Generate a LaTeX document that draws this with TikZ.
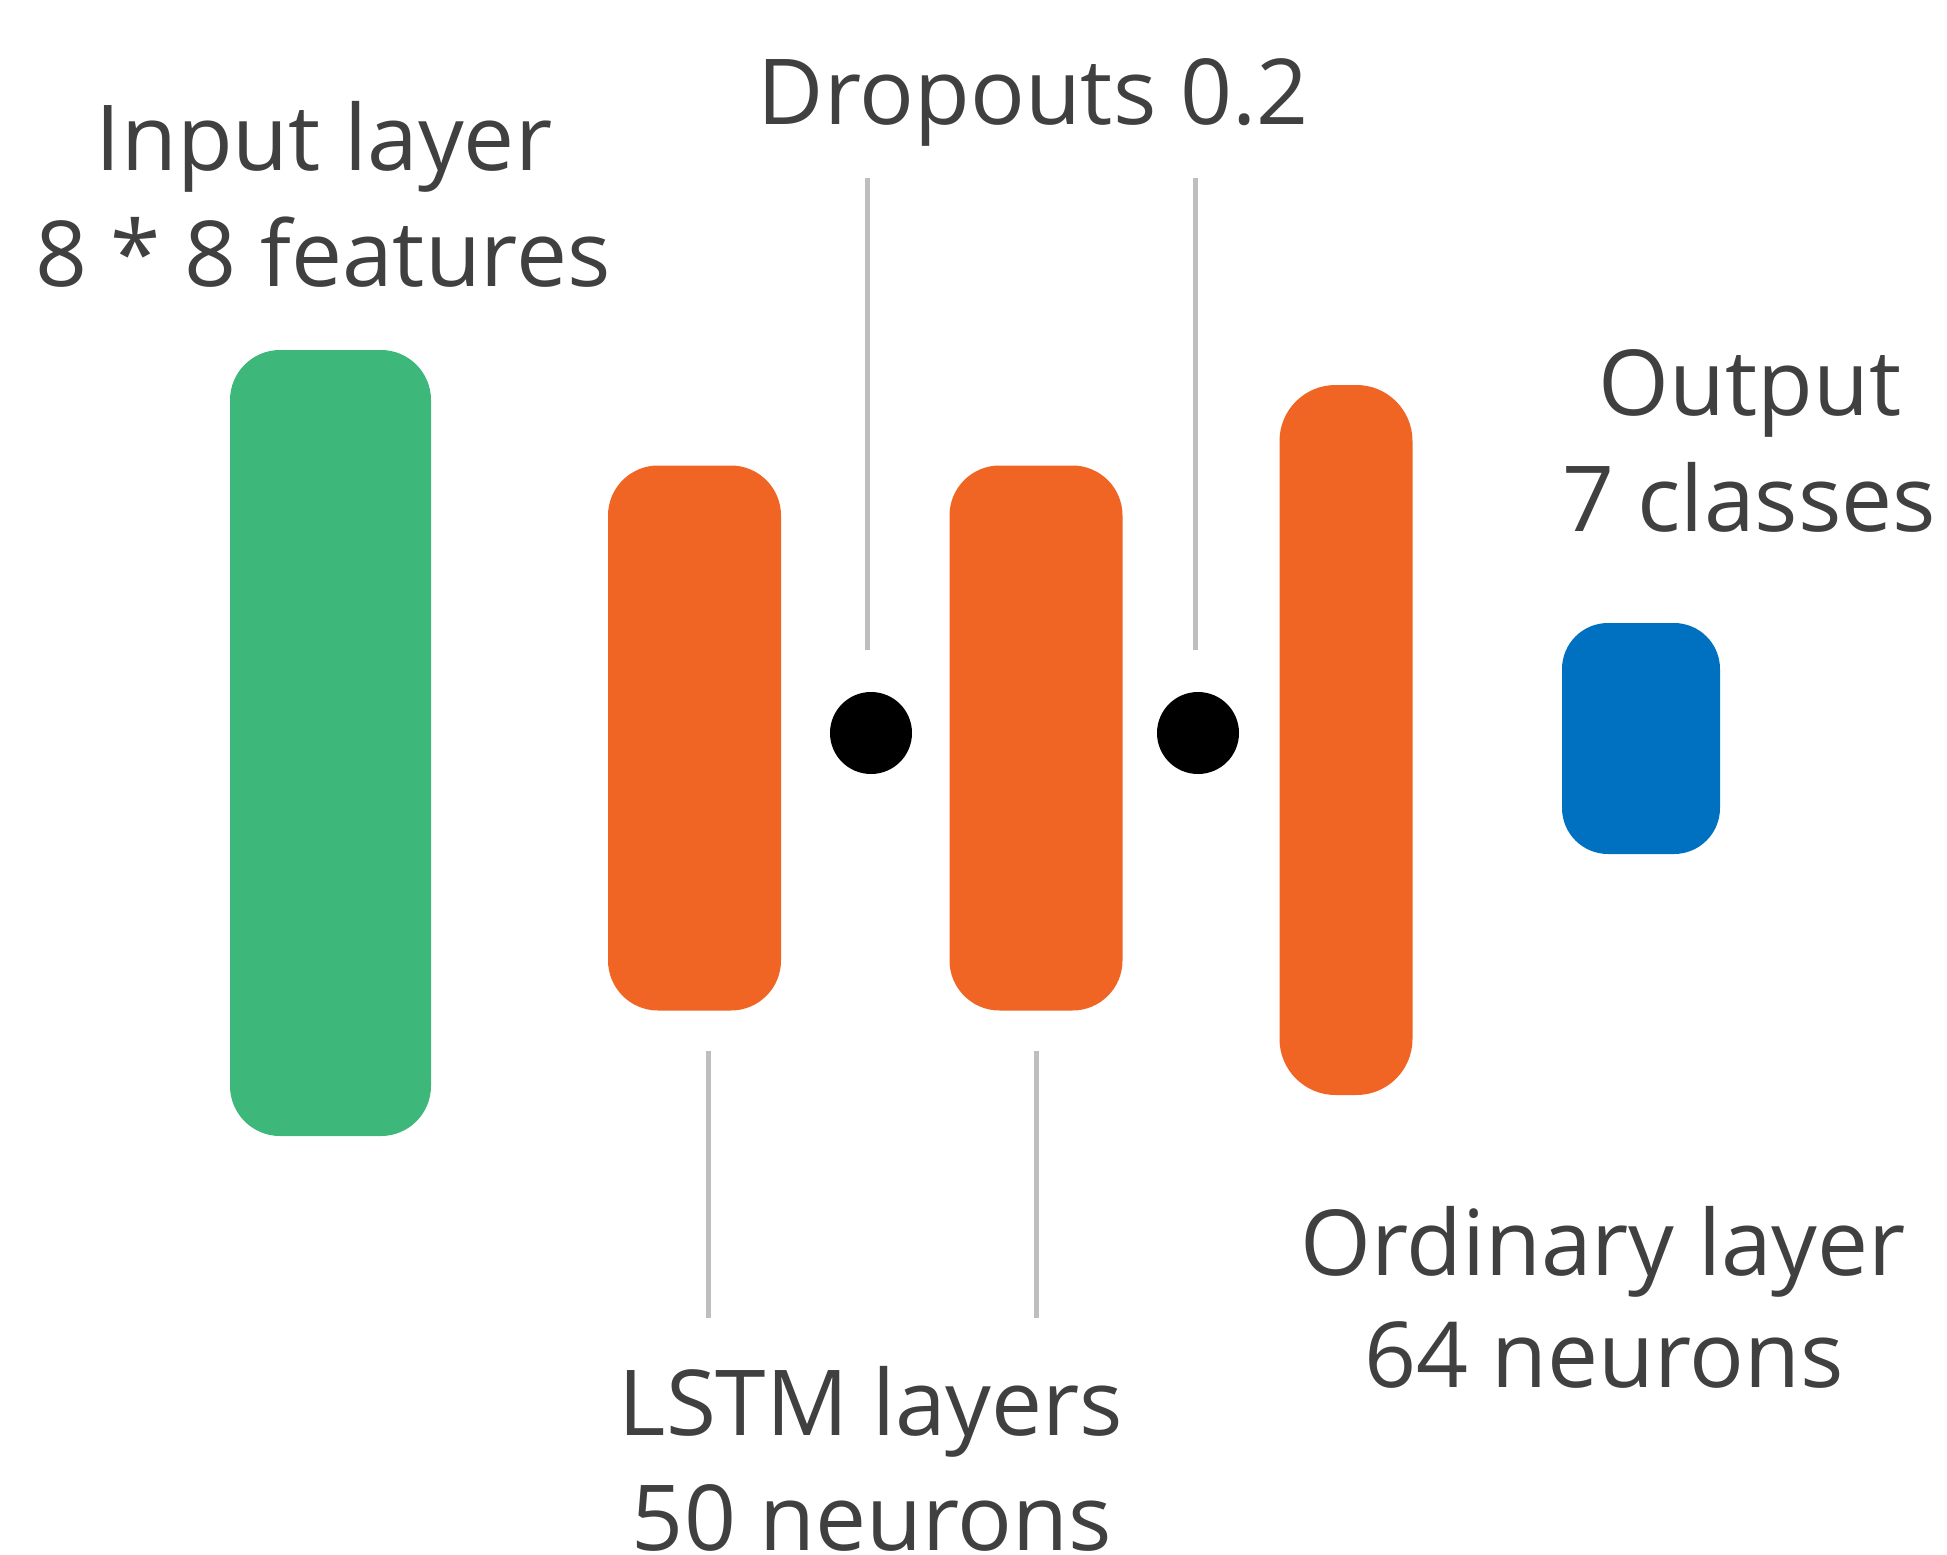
\documentclass[tikz,border=0pt]{standalone}
\usepackage{fontspec}
\setmainfont{Open Sans}
\definecolor{inGreen}{RGB}{61,184,122}
\definecolor{lstmOrange}{RGB}{241,101,36}
\definecolor{outBlue}{RGB}{0,112,192}
\definecolor{labelGray}{RGB}{64,64,64}
\definecolor{leaderGray}{RGB}{190,190,190}
\tikzset{
  layerbox/.style={rounded corners=50pt, inner sep=0pt, draw=none},
  dropdot/.style={circle, fill=black, minimum size=82pt, inner sep=0pt},
  leader/.style={draw=leaderGray, line width=5pt},
  caption/.style={anchor=base, inner sep=0pt, text=labelGray,
    font=\fontsize{91}{110}\selectfont}
}
\begin{document}
\begin{tikzpicture}[x=1pt, y=-1pt]
  \useasboundingbox (0,0) rectangle (1947,1555);

  % layers
  \node[layerbox, fill=inGreen, minimum width=201pt, minimum height=786pt] (inp) at (330.5,743) {};
  \node[layerbox, fill=lstmOrange, minimum width=173pt, minimum height=545pt] (lstmA) at (694.5,738) {};
  \node[layerbox, fill=lstmOrange, minimum width=173pt, minimum height=545pt] (lstmB) at (1036,738) {};
  \node[layerbox, fill=lstmOrange, minimum width=133pt, minimum height=710pt, rounded corners=56pt] (dense) at (1346,740) {};
  \node[layerbox, fill=outBlue, minimum width=158pt, minimum height=231pt, rounded corners=46pt] (outp) at (1641,738.5) {};

  % dropout markers
  \node[dropdot] (dropA) at (871,733) {};
  \node[dropdot] (dropB) at (1198,733) {};

  % leader line end points
  \coordinate (dropAtop) at (867,178);
  \coordinate (dropAend) at (867,650);
  \coordinate (dropBtop) at (1195,178);
  \coordinate (dropBend) at (1195,650);
  \coordinate (lstmAlow) at (708,1051);
  \coordinate (lstmAend) at (708,1318);
  \coordinate (lstmBlow) at (1036,1051);
  \coordinate (lstmBend) at (1036,1318);

  \draw[leader] (dropAtop) -- (dropAend);
  \draw[leader] (dropBtop) -- (dropBend);
  \draw[leader] (lstmAlow) -- (lstmAend);
  \draw[leader] (lstmBlow) -- (lstmBend);

  % captions
  \node[caption] (inT) at (324,170) {Input layer};
  \node[caption] (inS) at (323,286) {8 * 8 features};
  \node[caption] (dropT) at (1033,124) {Dropouts 0.2};
  \node[caption] (outT) at (1750,415) {Output};
  \node[caption] (outS) at (1749,531) {7 classes};
  \node[caption] (lstmT) at (871,1435) {LSTM layers};
  \node[caption] (lstmS) at (872,1550) {50 neurons};
  \node[caption] (denT) at (1603,1275) {Ordinary layer};
  \node[caption] (denS) at (1604,1387) {64 neurons};
\end{tikzpicture}
\end{document}
